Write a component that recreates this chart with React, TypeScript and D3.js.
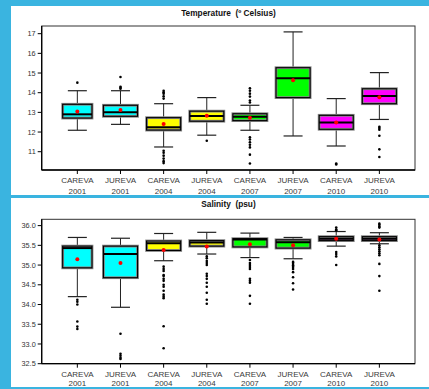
import * as d3 from 'd3'

// group labels
const sites = ['CAREVA', 'JUREVA', 'CAREVA', 'JUREVA', 'CAREVA', 'JUREVA', 'CAREVA', 'JUREVA']
const years = ['2001', '2001', '2004', '2004', '2007', '2007', '2010', '2010']
const yearFill: Record<string, string> = { '2001': '#00ffff', '2004': '#ffff00', '2007': '#00ff00', '2010': '#ff00ff' }

// temperature (ºC)
const tempLow = [12.09, 12.39, 11.24, 11.84, 12.09, 11.8, 11.29, 12.64]
const tempQ1 = [12.71, 12.8, 12.1, 12.55, 12.58, 13.75, 12.14, 13.44]
const tempMedian = [12.9, 13.0, 12.24, 12.82, 12.78, 14.73, 12.48, 13.83]
const tempQ3 = [13.41, 13.36, 12.73, 13.06, 12.93, 15.27, 12.85, 14.2]
const tempHigh = [14.1, 14.1, 13.44, 13.75, 13.36, 17.09, 13.7, 15.02]
const tempMean = [13.05, 13.12, 12.41, 12.83, 12.73, 14.63, 12.48, 13.77]
const tempOutliers = [
  [14.51],
  [14.8, 14.3, 14.25, 14.2],
  [14.1, 14.02, 13.95, 13.82, 13.7, 11.05, 10.95, 10.8, 10.65, 10.52, 10.42],
  [11.56],
  [14.22, 14.1, 13.95, 13.8, 13.6, 13.5, 11.73, 11.62, 11.48, 11.35, 11.22, 10.85, 10.4],
  [],
  [10.4, 10.35],
  [12.27, 12.2, 12.12, 11.81, 11.12, 10.73],
]
const tempTicks = [11, 12, 13, 14, 15, 16, 17]

// salinity (psu)
const salLow = [34.2, 33.93, 35.11, 35.28, 35.19, 35.16, 35.48, 35.54]
const salQ1 = [34.93, 34.68, 35.37, 35.48, 35.46, 35.43, 35.62, 35.62]
const salMedian = [35.43, 35.28, 35.55, 35.57, 35.65, 35.58, 35.67, 35.67]
const salQ3 = [35.48, 35.48, 35.61, 35.62, 35.67, 35.64, 35.72, 35.72]
const salHigh = [35.7, 35.68, 35.8, 35.83, 35.81, 35.7, 35.85, 35.82]
const salMean = [35.15, 35.05, 35.38, 35.47, 35.53, 35.5, 35.67, 35.65]
const salOutliers = [
  [34.12, 34.07, 34.0, 33.57, 33.44, 33.38],
  [33.26, 32.75, 32.7, 32.65, 32.62],
  [34.96, 34.9, 34.85, 34.75, 34.72, 34.65, 34.6, 34.5, 34.45, 34.35, 34.25, 34.2, 34.16, 33.45, 32.89],
  [35.22, 35.17, 35.1, 35.05, 35.0, 34.78, 34.72, 34.65, 34.55, 34.45, 34.3, 34.12, 34.02],
  [35.13, 35.05, 35.0, 34.95, 34.9, 34.65, 34.6, 34.55, 34.22, 34.02],
  [35.08, 35.05, 35.0, 34.98, 34.95, 34.9, 34.82, 34.69, 34.54, 34.38],
  [35.95, 35.9, 35.88, 35.33, 35.28, 35.22, 35.0],
  [36.05, 36.02, 35.98, 35.95, 35.5, 35.45, 35.4, 35.35, 35.3, 35.25, 35.03, 34.72, 34.35],
]
const salTicks = [32.5, 33.0, 33.5, 34.0, 34.5, 35.0, 35.5, 36.0]

const W = 429
const H = 389
const BLUE = '#3ab4e0'
const FONT = '"Liberation Sans", Arial, sans-serif'

type Props = {
  title: string
  titleY: number
  top: number
  bottom: number
  domain: [number, number]
  ticks: number[]
  fmt: (v: number) => string
  low: number[]
  q1: number[]
  median: number[]
  q3: number[]
  high: number[]
  mean: number[]
  outliers: number[][]
  labelGap: number
}

function BoxPanel(p: Props) {
  const left = 41.7
  const right = 415
  const x = d3.scaleLinear().domain([1 - 0.826, 8 + 0.826]).range([left, right])
  const y = d3.scaleLinear().domain(p.domain).range([p.bottom, p.top])
  const unit = x(2) - x(1)

  return (
    <g>
      <text x={228.5} y={p.titleY} textAnchor="middle" fontFamily={FONT} fontSize={8.3}
        fontWeight="bold" fill="#111" style={{ whiteSpace: 'pre' }}>{p.title}</text>
      <rect x={left} y={p.top} width={right - left} height={p.bottom - p.top} fill="none" stroke="#333" strokeWidth={1} />
      <line x1={left} x2={left} y1={p.top} y2={p.bottom} stroke="#000" strokeWidth={1.3} />
      <line x1={left} x2={right} y1={p.bottom} y2={p.bottom} stroke="#000" strokeWidth={1.3} />

      {p.ticks.map((t) => (
        <g key={t}>
          <line x1={left - 4} x2={left} y1={y(t)} y2={y(t)} stroke="#000" />
          <text x={left - 6} y={y(t) + 2.6} textAnchor="end" fontFamily={FONT} fontSize={7.3} fill="#333">{p.fmt(t)}</text>
        </g>
      ))}

      {sites.map((s, i) => {
        const cx = x(i + 1)
        const bw = (i === 0 ? 0.68 : 0.79) * unit
        const cap = 19
        return (
          <g key={i}>
            <line x1={cx} x2={cx} y1={p.bottom} y2={p.bottom + 4} stroke="#000" />
            <text x={cx} y={p.bottom + 13.3} textAnchor="middle" fontFamily={FONT} fontSize={8} fill="#3a3a3a">{s}</text>
            <text x={cx} y={p.bottom + p.labelGap} textAnchor="middle" fontFamily={FONT} fontSize={8} fill="#3a3a3a">{years[i]}</text>

            <line x1={cx} x2={cx} y1={y(p.high[i])} y2={y(p.q3[i])} stroke="#222" strokeWidth={1} />
            <line x1={cx} x2={cx} y1={y(p.q1[i])} y2={y(p.low[i])} stroke="#222" strokeWidth={1} />
            <line x1={cx - cap / 2} x2={cx + cap / 2} y1={y(p.high[i])} y2={y(p.high[i])} stroke="#222" strokeWidth={1.2} />
            <line x1={cx - cap / 2} x2={cx + cap / 2} y1={y(p.low[i])} y2={y(p.low[i])} stroke="#222" strokeWidth={1.2} />

            <rect x={cx - bw / 2} y={y(p.q3[i])} width={bw} height={y(p.q1[i]) - y(p.q3[i])}
              fill={yearFill[years[i]]} stroke="#888" strokeWidth={2.8} />
            <rect x={cx - bw / 2} y={y(p.q3[i])} width={bw} height={y(p.q1[i]) - y(p.q3[i])}
              fill="none" stroke="#000" strokeWidth={1.1} />
            <line x1={cx - bw / 2} x2={cx + bw / 2} y1={y(p.median[i])} y2={y(p.median[i])} stroke="#000" strokeWidth={2} />

            {p.outliers[i].map((v, j) => (
              <circle key={j} cx={cx} cy={y(v)} r={1.3} fill="#000" />
            ))}
            <circle cx={cx} cy={y(p.mean[i])} r={2} fill="#ff0000" />
          </g>
        )
      })}
    </g>
  )
}

export default function App() {
  return (
    <svg width={W} height={H} style={{ position: 'absolute', left: 0, top: 0 }}>
      <rect x={0} y={0} width={W} height={H} fill={BLUE} />
      <rect x={11} y={6} width={W - 11} height={189} fill="#fff" />
      <rect x={11} y={198} width={W - 11} height={189} fill="#fff" />
      <BoxPanel title="Temperature  (º Celsius)" titleY={15.6} top={26} bottom={170} domain={[10.07, 17.39]}
        ticks={tempTicks} fmt={(v) => String(v)} low={tempLow} q1={tempQ1} median={tempMedian}
        q3={tempQ3} high={tempHigh} mean={tempMean} outliers={tempOutliers} labelGap={23.6} />
      <BoxPanel title="Salinity  (psu)" titleY={207.3} top={219.3} bottom={363.7} domain={[32.5, 36.16]}
        ticks={salTicks} fmt={(v) => v.toFixed(1)} low={salLow} q1={salQ1} median={salMedian}
        q3={salQ3} high={salHigh} mean={salMean} outliers={salOutliers} labelGap={22.4} />
    </svg>
  )
}
